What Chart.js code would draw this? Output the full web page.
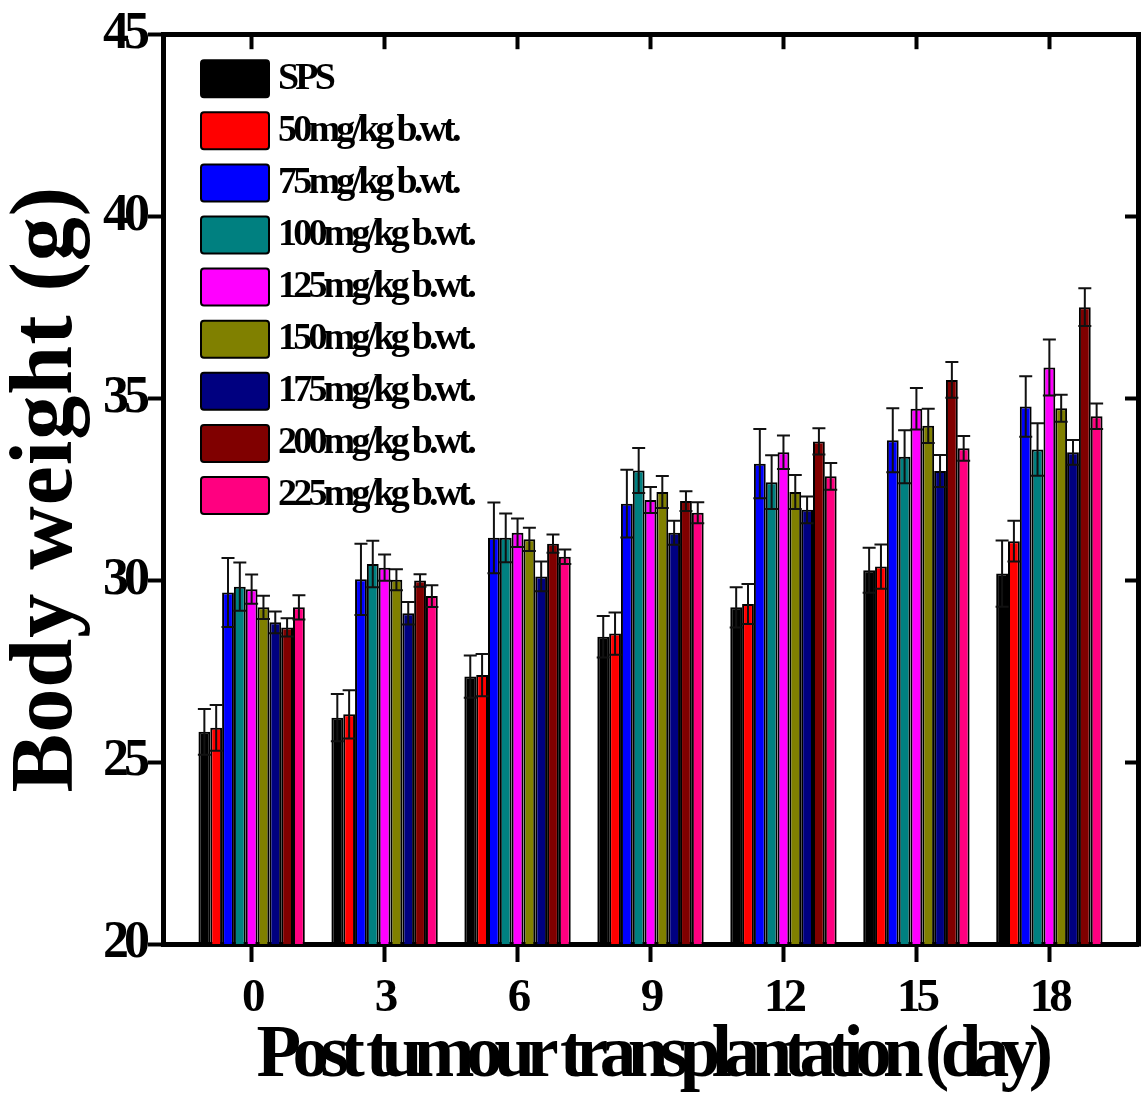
<!DOCTYPE html>
<html>
<head>
<meta charset="utf-8">
<script src="https://cdn.jsdelivr.net/npm/chart.js@4.4.1/dist/chart.umd.min.js"></script>
<style>
  html, body { margin: 0; padding: 0; background: #fff; }
  canvas { display: block; }
</style>
</head>
<body>
<canvas id="body-weight-chart" width="1144" height="1101"></canvas>
<script>
// days after tumour transplantation
const DAYS = [0, 3, 6, 9, 12, 15, 18];

const GROUP_LABELS = ['SPS', '50mg/kg b.wt.', '75mg/kg b.wt.', '100mg/kg b.wt.', '125mg/kg b.wt.',
    '150mg/kg b.wt.', '175mg/kg b.wt.', '200mg/kg b.wt.', '225mg/kg b.wt.'];
const COLORS = ['#000000', '#ff0000', '#0000ff', '#008080', '#ff00ff', '#808000', '#000080', '#800000', '#ff0080'];

// mean body weight (g)
const WEIGHT_SPS = [25.83, 26.22, 27.35, 28.44, 29.25, 30.27, 30.18];
const WEIGHT_50 = [25.94, 26.31, 27.39, 28.53, 29.34, 30.37, 31.07];
const WEIGHT_75 = [29.66, 30.02, 31.16, 32.10, 33.20, 33.84, 34.77];
const WEIGHT_100 = [29.82, 30.44, 31.16, 33.01, 32.69, 33.39, 33.59];
const WEIGHT_125 = [29.75, 30.34, 31.30, 32.20, 33.51, 34.71, 35.84];
const WEIGHT_150 = [29.25, 30.01, 31.12, 32.42, 32.42, 34.24, 34.72];
const WEIGHT_175 = [28.84, 29.09, 30.10, 31.30, 31.93, 33.00, 33.51];
const WEIGHT_200 = [28.70, 29.99, 31.00, 32.17, 33.81, 35.50, 37.50];
const WEIGHT_225 = [29.25, 29.56, 30.64, 31.85, 32.85, 33.62, 34.50];

// error (+/-)
const ERR_SPS = [0.63, 0.65, 0.58, 0.57, 0.55, 0.62, 0.91];
const ERR_50 = [0.63, 0.66, 0.58, 0.58, 0.55, 0.61, 0.56];
const ERR_75 = [0.95, 0.98, 0.97, 0.93, 0.95, 0.88, 0.83];
const ERR_100 = [0.66, 0.64, 0.67, 0.62, 0.74, 0.73, 0.72];
const ERR_125 = [0.40, 0.36, 0.39, 0.36, 0.46, 0.57, 0.77];
const ERR_150 = [0.32, 0.29, 0.32, 0.44, 0.47, 0.47, 0.37];
const ERR_175 = [0.30, 0.31, 0.41, 0.33, 0.37, 0.44, 0.34];
const ERR_200 = [0.25, 0.17, 0.25, 0.27, 0.36, 0.49, 0.52];
const ERR_225 = [0.33, 0.30, 0.20, 0.29, 0.37, 0.34, 0.35];

const WEIGHTS = [WEIGHT_SPS, WEIGHT_50, WEIGHT_75, WEIGHT_100, WEIGHT_125, WEIGHT_150, WEIGHT_175, WEIGHT_200, WEIGHT_225];
const ERRORS = [ERR_SPS, ERR_50, ERR_75, ERR_100, ERR_125, ERR_150, ERR_175, ERR_200, ERR_225];

const Y_MIN = 20;
const Y_MAX = 45;
const X_MIN = -2;
const X_MAX = 20;

const FONT = "'Liberation Serif', 'Times New Roman', serif";
Chart.defaults.font.family = FONT;
Chart.defaults.color = '#000';

function dayTicks(scale) {
    scale.ticks = DAYS.map(d => ({value: d}));
}

// letter spacing for one drawing method of a scale
function spaced(scale, method, spacing) {
    const orig = scale[method];
    scale[method] = function (...args) {
        const ctx = this.ctx;
        const prev = ctx.letterSpacing;
        ctx.letterSpacing = spacing;
        orig.apply(this, args);
        ctx.letterSpacing = prev;
    };
}

const condensedText = {
    id: 'condensedText',
    beforeDraw(chart) {
        if (chart._condensed) return;
        spaced(chart.scales.x, 'drawTitle', '-8.5px');
        spaced(chart.scales.x, 'drawLabels', '-4px');
        spaced(chart.scales.y, 'drawTitle', '1px');
        spaced(chart.scales.y, 'drawLabels', '-5px');
        chart._condensed = true;
    }
};

const errorBars = {
    id: 'errorBars',
    afterDatasetsDraw(chart) {
        const ctx = chart.ctx;
        const yScale = chart.scales.y;
        const half = 6.5;
        ctx.save();
        ctx.strokeStyle = '#111';
        ctx.lineWidth = 2;
        chart.data.datasets.forEach((ds, i) => {
            chart.getDatasetMeta(i).data.forEach((bar, j) => {
                const mean = ds.data[j].y;
                const top = yScale.getPixelForValue(mean + ds.errors[j]);
                const bottom = yScale.getPixelForValue(mean - ds.errors[j]);
                ctx.beginPath();
                ctx.moveTo(bar.x, top);
                ctx.lineTo(bar.x, bottom);
                ctx.moveTo(bar.x - half, top);
                ctx.lineTo(bar.x + half, top);
                ctx.moveTo(bar.x - half, bottom);
                ctx.lineTo(bar.x + half, bottom);
                ctx.stroke();
            });
        });
        ctx.restore();
    }
};

// legend sits inside the plot frame, top left
const insideLegend = {
    id: 'insideLegend',
    afterDraw(chart) {
        const {ctx, chartArea} = chart;
        const left = chartArea.left + 38;
        const top = chartArea.top + 26;
        const step = 52.1;
        ctx.save();
        ctx.font = 'bold 38px ' + FONT;
        ctx.letterSpacing = '-3.8px';
        ctx.textBaseline = 'middle';
        ctx.textAlign = 'left';
        chart.data.datasets.forEach((ds, i) => {
            const y = top + i * step;
            ctx.beginPath();
            ctx.roundRect(left, y, 68, 37, 3);
            ctx.fillStyle = ds.backgroundColor;
            ctx.fill();
            ctx.lineWidth = 2;
            ctx.strokeStyle = '#000';
            ctx.stroke();
            ctx.fillStyle = '#000';
            ctx.fillText(ds.label, left + 77, y + 18.5);
        });
        ctx.restore();
    }
};

const datasets = GROUP_LABELS.map((label, i) => ({
    label: label,
    data: DAYS.map((d, j) => ({x: d, y: WEIGHTS[i][j]})),
    errors: ERRORS[i],
    backgroundColor: COLORS[i],
    borderColor: '#000',
    borderWidth: 2,
    categoryPercentage: 0.8,
    barPercentage: 1.0,
}));

const frameGrid = (tickLength) => ({
    display: true,
    drawOnChartArea: false,
    drawTicks: true,
    tickLength: tickLength,
    tickWidth: 4,
    tickColor: '#000',
    offset: false,
});

const frameBorder = {display: true, color: '#000', width: 5};

new Chart(document.getElementById('body-weight-chart'), {
    type: 'bar',
    data: {datasets: datasets},
    options: {
        responsive: false,
        animation: false,
        devicePixelRatio: 1,
        layout: {padding: 0},
        plugins: {
            legend: {display: false},
            tooltip: {enabled: false},
        },
        scales: {
            x: {
                type: 'linear',
                position: 'bottom',
                min: X_MIN,
                max: X_MAX,
                offset: false,
                afterBuildTicks: dayTicks,
                afterFit: s => { s.height = 157; },
                grid: frameGrid(18),
                border: frameBorder,
                ticks: {
                    font: {size: 47, weight: 'bold'},
                    padding: 9,
                    maxRotation: 0,
                    autoSkip: false,
                },
                title: {
                    display: true,
                    text: 'Post tumour transplantation (day)',
                    font: {size: 73, weight: 'bold', lineHeight: 1},
                    padding: {top: 0, bottom: 7},
                },
            },
            x2: {
                type: 'linear',
                position: 'top',
                min: X_MIN,
                max: X_MAX,
                offset: false,
                afterBuildTicks: dayTicks,
                afterFit: s => { s.height = 30; },
                grid: frameGrid(-15),
                border: frameBorder,
                ticks: {display: false},
            },
            y: {
                type: 'linear',
                position: 'left',
                min: Y_MIN,
                max: Y_MAX,
                afterFit: s => { s.width = 163; },
                grid: frameGrid(15),
                border: frameBorder,
                ticks: {
                    stepSize: 5,
                    font: {size: 52, weight: 'bold'},
                    padding: 3,
                },
                title: {
                    display: true,
                    text: 'Body weight (g)',
                    font: {size: 88, weight: 'bold', lineHeight: 1},
                    padding: {top: 4, bottom: 0},
                },
            },
            y2: {
                type: 'linear',
                position: 'right',
                min: Y_MIN,
                max: Y_MAX,
                afterFit: s => { s.width = 6; },
                grid: frameGrid(-13),
                border: frameBorder,
                ticks: {display: false, stepSize: 5},
            },
        },
    },
    plugins: [condensedText, errorBars, insideLegend],
});
</script>
</body>
</html>
